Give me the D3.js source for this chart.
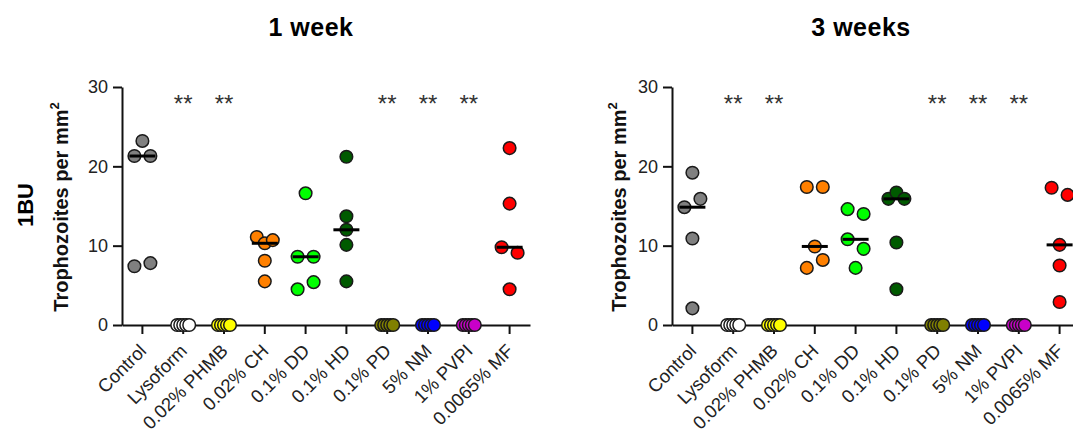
<!DOCTYPE html>
<html>
<head>
<meta charset="utf-8">
<script src="https://cdn.jsdelivr.net/npm/d3@7"></script>
<style>
body { margin: 0; background: #fff; }
text { font-family: Arial, "Liberation Sans", sans-serif; }
</style>
</head>
<body>
<div id="chart"></div>
<script>
let groups = ["Control", "Lysoform", "0.02% PHMB", "0.02% CH", "0.1% DD", "0.1% HD", "0.1% PD", "5% NM", "1% PVPI", "0.0065% MF"];
let groupColors = ["#808080", "#ffffff", "#ffff00", "#ff8000", "#00ff00", "#005a00", "#808000", "#0000ff", "#c800c8", "#ff0000"];

// trophozoites per mm2, 5 replicates per group (order = left to right when points touch)
let week1 = [
    [23.2, 21.3, 21.3, 7.4, 7.8],
    [0, 0, 0, 0, 0],
    [0, 0, 0, 0, 0],
    [11.1, 10.3, 10.7, 8.1, 5.5],
    [16.6, 8.6, 8.6, 4.5, 5.4],
    [21.2, 13.7, 12.0, 10.1, 5.5],
    [0, 0, 0, 0, 0],
    [0, 0, 0, 0, 0],
    [0, 0, 0, 0, 0],
    [22.3, 15.3, 9.8, 9.1, 4.5]
];
let week3 = [
    [19.2, 14.85, 15.9, 10.9, 2.1],
    [0, 0, 0, 0, 0],
    [0, 0, 0, 0, 0],
    [17.4, 17.4, 9.9, 7.2, 8.2],
    [14.6, 14.0, 10.8, 9.6, 7.2],
    [15.9, 16.7, 15.9, 10.4, 4.5],
    [0, 0, 0, 0, 0],
    [0, 0, 0, 0, 0],
    [0, 0, 0, 0, 0],
    [17.3, 16.4, 10.1, 7.5, 2.9]
];
let starred = ["Lysoform", "0.02% PHMB", "0.1% PD", "5% NM", "1% PVPI"];
let yTicks = [0, 10, 20, 30];

let width = 1073, height = 430;

let svg = d3.select("#chart")
    .append("svg")
    .attr("width", width)
    .attr("height", height);

let y = d3.scaleLinear()
    .domain([0, 30])
    .range([325, 87]);

// spread points that sit too close together (graphpad style scatter)
function spread(vals) {
    let order = vals.map((v, i) => ({v: v, i: i})).sort((a, b) => b.v - a.v);
    let offs = vals.map(() => 0);
    let clusters = [];
    order.forEach(d => {
        let last = clusters[clusters.length - 1];
        if (last && Math.abs(y(last[last.length - 1].v) - y(d.v)) < 11) last.push(d);
        else clusters.push([d]);
    });
    clusters.forEach(c => {
        let n = c.length;
        if (n < 2) return;
        let w = n <= 3 ? 16 : 12;
        c.sort((a, b) => a.i - b.i);
        c.forEach((d, k) => { offs[d.i] = (k / (n - 1) - 0.5) * w; });
    });
    return offs;
}

svg.append("text")
    .attr("transform", "translate(33,205) rotate(-90)")
    .style("text-anchor", "middle")
    .style("font-weight", "bold")
    .style("font-size", "22px")
    .text("1BU");

function drawPanel(values, title, left, yTitleX) {
    let g = svg.append("g");

    let x = d3.scaleBand()
        .domain(groups)
        .range([left, left + 408]);
    let bw = x.bandwidth();

    g.append("text")
        .attr("x", left + 189)
        .attr("y", 36)
        .style("text-anchor", "middle")
        .style("font-weight", "bold")
        .style("font-size", "25px")
        .style("letter-spacing", "0.5px")
        .text(title);

    let yt = g.append("text")
        .attr("transform", `translate(${yTitleX},207) rotate(-90)`)
        .style("text-anchor", "middle")
        .style("font-weight", "bold")
        .style("font-size", "20px")
        .attr("fill", "#111");
    yt.append("tspan").text("Trophozoites per mm");
    yt.append("tspan").attr("dy", -9).style("font-size", "13px").text("2");

    g.append("g")
        .attr("transform", `translate(${left},0)`)
        .call(d3.axisLeft(y).tickValues(yTicks).tickSize(9).tickSizeOuter(0).tickPadding(5))
        .call(a => a.selectAll("text").style("font-size", "18px").attr("fill", "#222"))
        .call(a => a.selectAll("path, line").attr("stroke", "#111").attr("stroke-width", 2));

    g.append("g")
        .attr("transform", "translate(0,325)")
        .call(d3.axisBottom(x).tickSize(9).tickSizeOuter(0).tickFormat(""))
        .call(a => a.selectAll("path, line").attr("stroke", "#111").attr("stroke-width", 2));

    g.append("g").selectAll("text")
        .data(groups)
        .enter()
        .append("text")
        .attr("transform", d => `translate(${x(d) + bw / 2 + 5},352) rotate(-45)`)
        .style("text-anchor", "end")
        .style("font-size", "18.5px")
        .attr("fill", "#222")
        .text(d => d);

    g.append("g").selectAll("text")
        .data(starred)
        .enter()
        .append("text")
        .attr("x", d => x(d) + bw / 2)
        .attr("y", 112)
        .style("text-anchor", "middle")
        .style("font-size", "24px")
        .attr("fill", "#333")
        .text("**");

    groups.forEach((name, gi) => {
        let vals = values[gi];
        let cx = x(name) + bw / 2;
        let offs = spread(vals);

        g.append("g").selectAll("circle")
            .data(vals)
            .enter()
            .append("circle")
            .attr("cx", (d, i) => cx + offs[i])
            .attr("cy", d => y(d))
            .attr("r", 6.3)
            .attr("fill", groupColors[gi])
            .attr("stroke", "#1a1a1a")
            .attr("stroke-width", 1.5);

        let med = d3.median(vals);
        if (med > 0) {
            g.append("line")
                .attr("x1", cx - 13)
                .attr("x2", cx + 13)
                .attr("y1", y(med))
                .attr("y2", y(med))
                .attr("stroke", "#000")
                .attr("stroke-width", 3);
        }
    });
}

drawPanel(week1, "1 week", 122, 68);
drawPanel(week3, "3 weeks", 672, 626);
</script>
</body>
</html>
